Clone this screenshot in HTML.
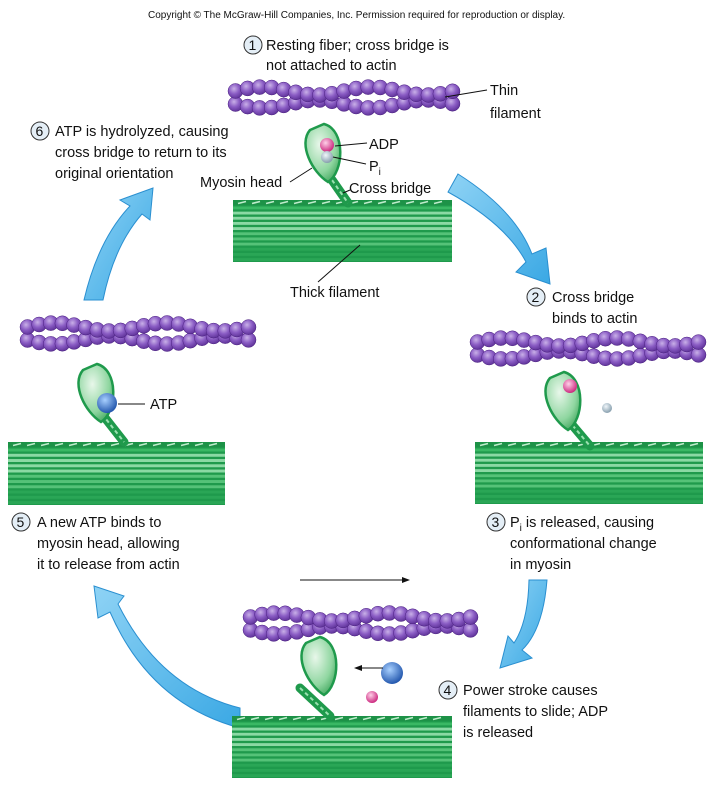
<!DOCTYPE html>
<html><head><meta charset="utf-8"><style>
html,body{margin:0;padding:0;background:#fff}
svg{display:block}
text{font-family:"Liberation Sans",Arial,sans-serif;font-size:14.5px;fill:#111}
.c{fill:#e4eef6;stroke:#333;stroke-width:1}
</style></head><body>
<svg id="s" width="712" height="787" viewBox="0 0 712 787" xmlns="http://www.w3.org/2000/svg">
<defs>
<radialGradient id="bead" cx="0.4" cy="0.35" r="0.7"><stop offset="0" stop-color="#c9b0e8"/><stop offset="0.5" stop-color="#8a5cc4"/><stop offset="1" stop-color="#5a2e94"/></radialGradient>
<radialGradient id="head" cx="0.4" cy="0.35" r="0.8"><stop offset="0" stop-color="#e8f7ea"/><stop offset="0.6" stop-color="#8fd6a0"/><stop offset="1" stop-color="#2c9a4c"/></radialGradient>
<radialGradient id="pink" cx="0.4" cy="0.35" r="0.7"><stop offset="0" stop-color="#ffd0e8"/><stop offset="1" stop-color="#c81e78"/></radialGradient>
<radialGradient id="blue" cx="0.4" cy="0.35" r="0.7"><stop offset="0" stop-color="#a8d0ff"/><stop offset="1" stop-color="#1a4fa8"/></radialGradient>
<radialGradient id="grey" cx="0.4" cy="0.35" r="0.7"><stop offset="0" stop-color="#f0f6fa"/><stop offset="1" stop-color="#7f98a8"/></radialGradient>
<linearGradient id="arr" x1="0" y1="0" x2="1" y2="1"><stop offset="0" stop-color="#8fd3f5"/><stop offset="1" stop-color="#3aa8e4"/></linearGradient>
</defs>
<g id="g"></g>
<text x="148" y="18" style="font-size:10px">Copyright © The McGraw-Hill Companies, Inc. Permission required for reproduction or display.</text>
</svg>
<script>
var g=document.getElementById('g'),h='';
function thick(x,y,w,hh){
 h+='<rect x="'+x+'" y="'+y+'" width="'+w+'" height="'+hh+'" fill="#1f9a4c"/>';
 var n=12,sh=hh/n;
 for(var i=0;i<n;i++){var c=i<2?'#3ab864':(i<6?'#8bd9a4':(i<9?'#55c278':'#2aa656'));
  h+='<rect x="'+x+'" y="'+(y+i*sh+1.3)+'" width="'+w+'" height="'+(sh-2.3)+'" fill="'+c+'"/>';}
 h+='<rect x="'+x+'" y="'+y+'" width="'+w+'" height="5" fill="#1d9247"/>';
 for(var xx=x+5;xx<x+w-8;xx+=14){h+='<path d="M'+xx+' '+(y+3.5)+' l8 -2" stroke="#bfeccc" stroke-width="1.6"/>';}
}
function thin(x,y,len){
 var n=Math.round(len/12);
 var a='',b='';
 for(var i=0;i<n;i++){var xx=x+7.5+i*(len-15)/(n-1);var s=Math.sin(i/n*2*Math.PI*2.1);
  a+='<circle cx="'+xx.toFixed(1)+'" cy="'+(y+9-4*s).toFixed(1)+'" r="7.5" fill="url(#bead)" stroke="#4a2080" stroke-width="0.5"/>';
  b+='<circle cx="'+xx.toFixed(1)+'" cy="'+(y+22+4*s).toFixed(1)+'" r="7.5" fill="url(#bead)" stroke="#4a2080" stroke-width="0.5"/>';}
 h+=b+a;
}
function myo(hx,hy,nx1,ny1,nx2,ny2){
 h+='<path d="M'+nx1+' '+ny1+' L'+nx2+' '+ny2+'" stroke="#1f9a4c" stroke-width="9" stroke-linecap="round"/>';
 h+='<path d="M'+nx1+' '+ny1+' L'+nx2+' '+ny2+'" stroke="#9be0b0" stroke-width="2" stroke-dasharray="4 3"/>';
 var d='M'+(hx+2)+' '+(hy-28)+' C'+(hx+24)+' '+(hy-22)+' '+(hx+22)+' '+(hy+20)+' '+(hx+6)+' '+(hy+30)+' C'+(hx-10)+' '+(hy+20)+' '+(hx-24)+' '+(hy-8)+' '+(hx-12)+' '+(hy-22)+' Z';
 h+='<path d="'+d+'" fill="url(#head)" stroke="#1f9a4c" stroke-width="2.5"/>';
}
function ball(x,y,r,f){h+='<circle cx="'+x+'" cy="'+y+'" r="'+r+'" fill="url(#'+f+')"/>';}
function bigArrow(d){h+='<path d="'+d+'" fill="url(#arr)" stroke="#2a8fd0" stroke-width="1"/>';}
bigArrow('M458 174 Q515 210 532 254 L546 248 L550 284 L516 272 L526 262 Q506 224 448 192 Z');
bigArrow('M547 580 Q543 630 522 650 L532 658 L500 668 L508 636 L514 643 Q528 622 529 580 Z');
bigArrow('M240 728 Q150 704 110 612 L98 618 L94 586 L124 596 L118 604 Q160 688 240 708 Z');
bigArrow('M84 300 Q98 240 130 206 L120 200 L153 188 L150 220 L142 214 Q114 246 103 300 Z');
thin(228,82,232); thick(233,200,219,62); myo(322,152,332,180,348,203);
thin(20,318,236); thick(8,442,217,63); myo(95,392,102,414,124,442);
thin(470,333,236); thick(475,442,228,62); myo(562,400,568,420,590,446);
thin(243,608,235); thick(232,716,220,62); myo(318,665,300,688,330,716);
ball(327,145,7,'pink');ball(327,157,6,'grey');
ball(107,403,10,'blue');
ball(570,386,7,'pink');ball(607,408,5,'grey');
ball(392,673,11,'blue');ball(372,697,6,'pink');
h+='<g stroke="#111" stroke-width="1" fill="none">';
h+='<path d="M445 97 L487 90"/><path d="M335 146 L367 143"/><path d="M333 157 L366 164"/>';
h+='<path d="M290 182 L312 168"/><path d="M343 193 L350 190"/><path d="M318 282 L360 245"/>';
h+='<path d="M118 404 L145 404"/><path d="M300 580 L405 580"/><path d="M383 668 L360 668"/></g>';
h+='<path d="M410 580 l-8 -3 v6 z M354 668 l8 -3 v6 z" fill="#111"/>';
function num(x,y,n){h+='<circle class="c" cx="'+x+'" cy="'+y+'" r="9"/><text x="'+(x-4.5)+'" y="'+(y+5)+'" style="font-size:14px">'+n+'</text>';}
function t(x,y,s){h+='<text x="'+x+'" y="'+y+'">'+s+'</text>';}
num(253,45,1);t(266,50,'Resting fiber; cross bridge is');t(266,70,'not attached to actin');
t(490,95,'Thin');t(490,118,'filament');
t(369,149,'ADP');t(369,171,'P<tspan dy="4" style="font-size:10px">i</tspan>');
t(200,187,'Myosin head');t(349,193,'Cross bridge');t(290,297,'Thick filament');
num(40,131,6);t(55,136,'ATP is hydrolyzed, causing');t(55,157,'cross bridge to return to its');t(55,178,'original orientation');
num(536,297,2);t(552,302,'Cross bridge');t(552,323,'binds to actin');
t(150,409,'ATP');
num(21,522,5);t(37,527,'A new ATP binds to');t(37,548,'myosin head, allowing');t(37,569,'it to release from actin');
num(496,522,3);t(510,527,'P<tspan dy="4" style="font-size:10px">i</tspan><tspan dy="-4"> is released, causing</tspan>');t(510,548,'conformational change');t(510,569,'in myosin');
num(448,690,4);t(463,695,'Power stroke causes');t(463,716,'filaments to slide; ADP');t(463,737,'is released');
g.innerHTML=h;
</script>
</body></html>
